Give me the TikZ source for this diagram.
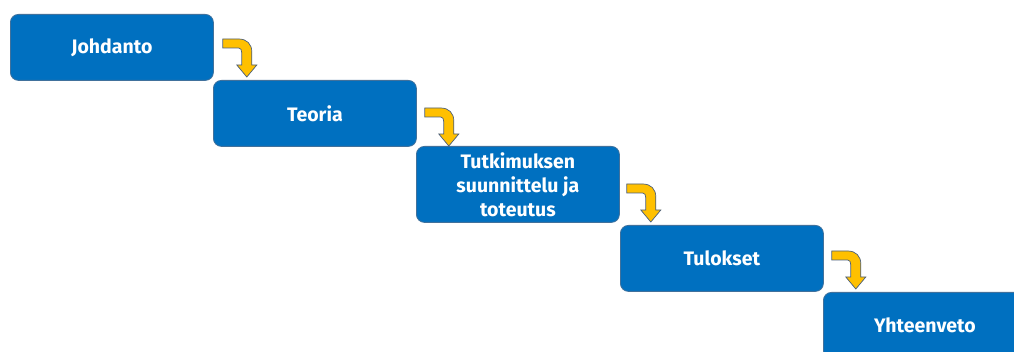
\documentclass[tikz,border=0pt]{standalone}
\usepackage{fontspec}
\setmainfont{Fira Sans}
\usetikzlibrary{calc}
\definecolor{boxblue}{HTML}{0070C0}
\definecolor{boxedge}{HTML}{41719C}
\definecolor{arrowyellow}{HTML}{FFC000}
\definecolor{arrowedge}{HTML}{4A5E7A}
\tikzset{
  stagebox/.style={rectangle, rounded corners=8pt, fill=boxblue, draw=boxedge, line width=0.8pt,
    minimum width=203pt, minimum height=66pt, anchor=north west, align=center,
    text=white, font=\fontsize{19.5}{24}\selectfont\bfseries, inner sep=2pt},
  bentarrow/.pic={
    \filldraw[fill=arrowyellow, draw=arrowedge, line width=0.7pt]
      (0,0) -- (16,0) .. controls (24,0) and (29,5) .. (29,13) -- (29,26) -- (34,26)
      -- (24,38) -- (14,26) -- (19,26) -- (19,14) .. controls (19,11) and (18,9) .. (16,9)
      -- (0,9) -- cycle;
  }
}
\begin{document}
\begin{tikzpicture}[x=1pt,y=-1pt]
\useasboundingbox (0,0) rectangle (1014,352);
\node[stagebox] (b1) at (10,14) {Johdanto};
\node[stagebox] (b2) at (213,80) {Teoria};
\node[stagebox, minimum height=76pt] (b3) at (416,146) {Tutkimuksen\\suunnittelu ja\\toteutus};
\node[stagebox] (b4) at (620,225) {Tulokset};
\node[stagebox] (b5) at (823,292) {Yhteenveto};
\coordinate (a1) at ($(b1.north east)+(9,25)$);
\coordinate (a2) at ($(b2.north east)+(8,28)$);
\coordinate (a3) at ($(b3.north east)+(7,38)$);
\coordinate (a4) at ($(b4.north east)+(8,26)$);
\pic at (a1) {bentarrow};
\pic at (a2) {bentarrow};
\pic at (a3) {bentarrow};
\pic at (a4) {bentarrow};
\end{tikzpicture}
\end{document}
